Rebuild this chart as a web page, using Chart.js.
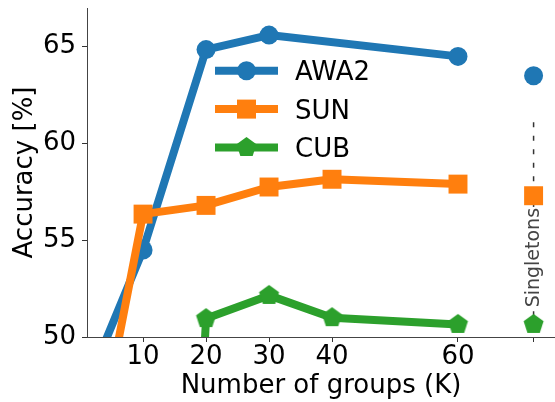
<!DOCTYPE html>
<html>
<head>
<meta charset="utf-8">
<script src="https://cdn.jsdelivr.net/npm/chart.js@4.4.0/dist/chart.umd.min.js"></script>
<style>
  html, body { margin: 0; padding: 0; background: #fff; }
  #wrap { width: 555px; height: 402px; }
</style>
</head>
<body>
<div id="wrap"><canvas id="chart" width="555" height="402"></canvas></div>
<script>
// values
const xTicks = [10, 20, 30, 40, 60];
const singletonK = 72;
const yTicks = [50, 55, 60, 65];

const awa2K = [2, 10, 20, 30, 60];
const awa2Acc = [48.2, 54.5, 64.85, 65.6, 64.5];
const sunK = [2, 10, 20, 30, 40, 60];
const sunAcc = [43.0, 56.35, 56.8, 57.75, 58.15, 57.9];
const cubK = [19, 20, 30, 40, 60];
const cubAcc = [44.8, 50.95, 52.15, 51.0, 50.65];

const seriesNames = ['AWA2', 'SUN', 'CUB'];
const singletonAcc = [63.5, 57.3, 50.65];
const singletonGuide = [61.1, 50];
const singletonLabelY = 54.1;

const blue = '#1f77b4', orange = '#ff7f0e', green = '#2ca02c';
const family = "'DejaVu Sans', sans-serif";

function pentagon(color, r) {
  const s = Math.ceil(2 * r + 2);
  const c = document.createElement('canvas');
  c.width = s; c.height = s;
  const g = c.getContext('2d');
  g.fillStyle = color;
  g.beginPath();
  for (let i = 0; i < 5; i++) {
    const a = -Math.PI / 2 + i * 2 * Math.PI / 5;
    const px = s / 2 + r * Math.cos(a), py = s / 2 + r * Math.sin(a);
    if (i) g.lineTo(px, py); else g.moveTo(px, py);
  }
  g.closePath();
  g.fill();
  return c;
}
const pent = pentagon(green, 10.5);

const pts = (xs, ys) => xs.map((x, i) => ({x: x, y: ys[i]}));

const styles = [
  {color: blue, pointStyle: 'circle', pointRadius: 9.5},
  {color: orange, pointStyle: 'rect', pointRadius: 13.4},
  {color: green, pointStyle: pent, pointRadius: 10.5}
];

function series(i, data, order) {
  const st = styles[i];
  return {
    label: seriesNames[i], data: data,
    borderColor: st.color, backgroundColor: st.color,
    pointBackgroundColor: st.color, pointBorderWidth: 0,
    pointStyle: st.pointStyle, pointRadius: st.pointRadius,
    borderWidth: 8, borderJoinStyle: 'round', tension: 0,
    clip: 0, order: order
  };
}

function single(i, order) {
  const d = series(i, [{x: singletonK, y: singletonAcc[i]}], order);
  d.showLine = false;
  d.label = seriesNames[i] + ' singleton';
  return d;
}

// matplotlib-like legend: line handle with a marker in the middle
const legendPlugin = {
  id: 'mplLegend',
  afterDraw(chart) {
    const {ctx, chartArea} = chart;
    const x0 = chartArea.left + 128, x1 = x0 + 63, xm = (x0 + x1) / 2;
    ctx.save();
    seriesNames.forEach((name, i) => {
      const st = styles[i];
      const y = chartArea.top + 62.7 + i * 38.4;
      ctx.strokeStyle = st.color;
      ctx.lineWidth = 8;
      ctx.beginPath();
      ctx.moveTo(x0, y); ctx.lineTo(x1, y);
      ctx.stroke();
      ctx.fillStyle = st.color;
      if (i === 0) {
        ctx.beginPath(); ctx.arc(xm, y, 9.5, 0, 2 * Math.PI); ctx.fill();
      } else if (i === 1) {
        ctx.fillRect(xm - 9.5, y - 9.5, 19, 19);
      } else {
        ctx.drawImage(pent, xm - pent.width / 2, y - pent.height / 2);
      }
      ctx.fillStyle = '#000';
      ctx.font = '26px ' + family;
      ctx.textBaseline = 'alphabetic';
      ctx.textAlign = 'left';
      ctx.fillText(name, x1 + 17, y + 9.5);
    });
    ctx.restore();
  }
};

const singletonText = {
  id: 'singletonText',
  afterDatasetsDraw(chart) {
    const {ctx, scales} = chart;
    const x = scales.x.getPixelForValue(singletonK);
    const y = scales.y.getPixelForValue(singletonLabelY);
    ctx.save();
    ctx.translate(x, y);
    ctx.rotate(-Math.PI / 2);
    ctx.font = '19px ' + family;
    const w = ctx.measureText('Singletons').width;
    ctx.fillStyle = '#fff';
    ctx.fillRect(-w / 2 - 1, -12, w + 2, 24);
    ctx.fillStyle = '#444';
    ctx.textAlign = 'center';
    ctx.textBaseline = 'middle';
    ctx.fillText('Singletons', 0, 0);
    ctx.restore();
  }
};

const tickFont = {family: family, size: 26};

new Chart(document.getElementById('chart'), {
  type: 'line',
  data: {
    datasets: [
      series(0, pts(awa2K, awa2Acc), 3),
      series(1, pts(sunK, sunAcc), 2),
      series(2, pts(cubK, cubAcc), 1),
      single(0, 0), single(1, 0), single(2, 0),
      {
        label: 'guide',
        data: [{x: singletonK, y: singletonGuide[0]}, {x: singletonK, y: singletonGuide[1]}],
        borderColor: '#333', borderWidth: 1.5, borderDash: [5, 8.5],
        pointRadius: 0, clip: 0, order: 10
      }
    ]
  },
  options: {
    responsive: false,
    animation: false,
    layout: {autoPadding: false, padding: {top: 8, right: 0, bottom: 0, left: 0}},
    plugins: {legend: {display: false}, tooltip: {enabled: false}},
    scales: {
      x: {
        type: 'linear', min: 1.1, max: 75.4,
        afterBuildTicks: s => { s.ticks = xTicks.concat([singletonK]).map(v => ({value: v})); },
        afterFit: s => { s.height = 65; s.paddingLeft = 0; s.paddingRight = 0; },
        ticks: {
          callback: v => v === singletonK ? '' : String(v),
          font: tickFont, color: '#000', padding: 0, maxRotation: 0, autoSkip: false
        },
        grid: {display: true, drawOnChartArea: false, drawTicks: true, tickLength: 5, tickColor: '#333', tickWidth: 1},
        border: {display: true, color: '#444', width: 1},
        title: {display: true, text: 'Number of groups (K)', font: tickFont, color: '#000', padding: {top: 0, bottom: 0}}
      },
      y: {
        min: 50, max: 67,
        afterBuildTicks: s => { s.ticks = yTicks.map(v => ({value: v})); },
        afterFit: s => { s.width = 87; s.paddingTop = 0; s.paddingBottom = 0; },
        ticks: {font: tickFont, color: '#000', padding: 6},
        grid: {display: true, drawOnChartArea: false, drawTicks: true, tickLength: 5, tickColor: '#333', tickWidth: 1},
        border: {display: true, color: '#444', width: 1},
        title: {display: true, text: 'Accuracy [%]', font: tickFont, color: '#000', padding: {top: 10, bottom: 0}}
      }
    }
  },
  plugins: [singletonText, legendPlugin]
});
</script>
</body>
</html>
